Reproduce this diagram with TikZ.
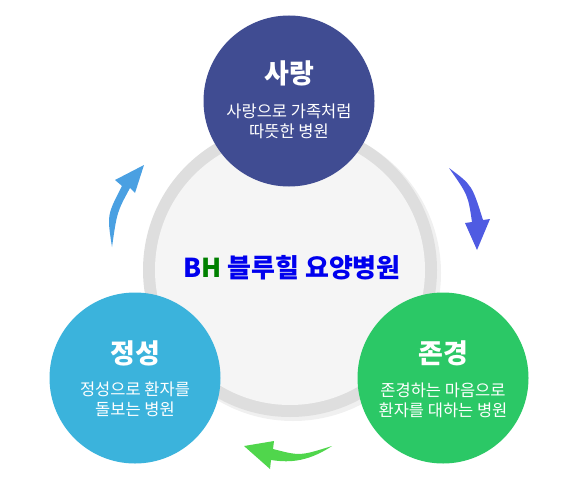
\documentclass[tikz,border=0pt]{standalone}
\usepackage{fontspec}
\setmainfont{Noto Sans CJK KR}
\usepackage{xcolor}
\usetikzlibrary{positioning}

\definecolor{corSarang}{RGB}{64,76,146}
\definecolor{corJeongseong}{RGB}{59,179,220}
\definecolor{corJongyeong}{RGB}{43,200,102}
\definecolor{corSetaAzul}{RGB}{79,91,226}
\definecolor{corSetaCeu}{RGB}{74,160,226}
\definecolor{corSetaVerde}{RGB}{80,214,76}
\definecolor{corTexto}{RGB}{0,0,238}
\definecolor{corH}{RGB}{0,128,0}

\begin{document}
\begin{tikzpicture}[
    x=1pt, y=-1pt,
    valor/.style={circle, fill=#1, draw=none, minimum size=171pt, inner sep=0pt},
    titulo/.style={text=white, font=\fontsize{27}{30}\selectfont\bfseries},
    frase/.style={text=white, align=center,
                  font=\fontsize{16.5}{20}\selectfont}
  ]
  \useasboundingbox (0,0) rectangle (580,500);

  % ── circulo central ─────────────────────────────────────────────
  \fill[black!6] (293,273) circle (148);
  \fill[black!13] (290,270) circle (147);
  \fill[black!4] (290,270) circle (135);
  \node (centro) at (292,268)
    {\fontsize{26}{28}\selectfont\bfseries
     \textcolor{corTexto}{B}\textcolor{corH}{H} \textcolor{corTexto}{블루힐 요양병원}};

  % ── tres valores ─────────────────────────────────────────────────
  \node[valor=corSarang]     (sarang)     at (289,101) {};
  \node[valor=corJeongseong] (jeongseong) at (135,378) {};
  \node[valor=corJongyeong]  (jongyeong)  at (443,378) {};

  \node[titulo] at (sarang.center) [yshift=28pt] {사랑};
  \node[frase]  at (sarang.center) [yshift=-20pt] {사랑으로 가족처럼\\따뜻한 병원};

  \node[titulo] at (jeongseong.center) [yshift=25pt] {정성};
  \node[frase]  at (jeongseong.center) [yshift=-21pt] {정성으로 환자를\\돌보는 병원};

  \node[titulo] at (jongyeong.center) [yshift=25pt] {존경};
  \node[frase]  at (jongyeong.center) [yshift=-22pt] {존경하는 마음으로\\환자를 대하는 병원};

  % ── setas ────────────────────────────────────────────────────────
  \fill[corSetaAzul] (449,168) .. controls (472,185) .. (483,220)
    -- (490,219) -- (477,250) -- (465,223) -- (472,222)
    .. controls (468,195) .. (449,168) -- cycle;

  \fill[corSetaVerde] (332,446) .. controls (305,464) and (285,462) .. (271,460)
    -- (270,469) -- (244,446) -- (274,441) -- (273,449)
    .. controls (300,456) .. (332,446) -- cycle;

  \fill[corSetaCeu] (112,247) .. controls (107,215) .. (122,186)
    -- (115,180) -- (144,165) -- (135,193) -- (130,188)
    .. controls (117,212) .. (112,247) -- cycle;

\end{tikzpicture}
\end{document}
